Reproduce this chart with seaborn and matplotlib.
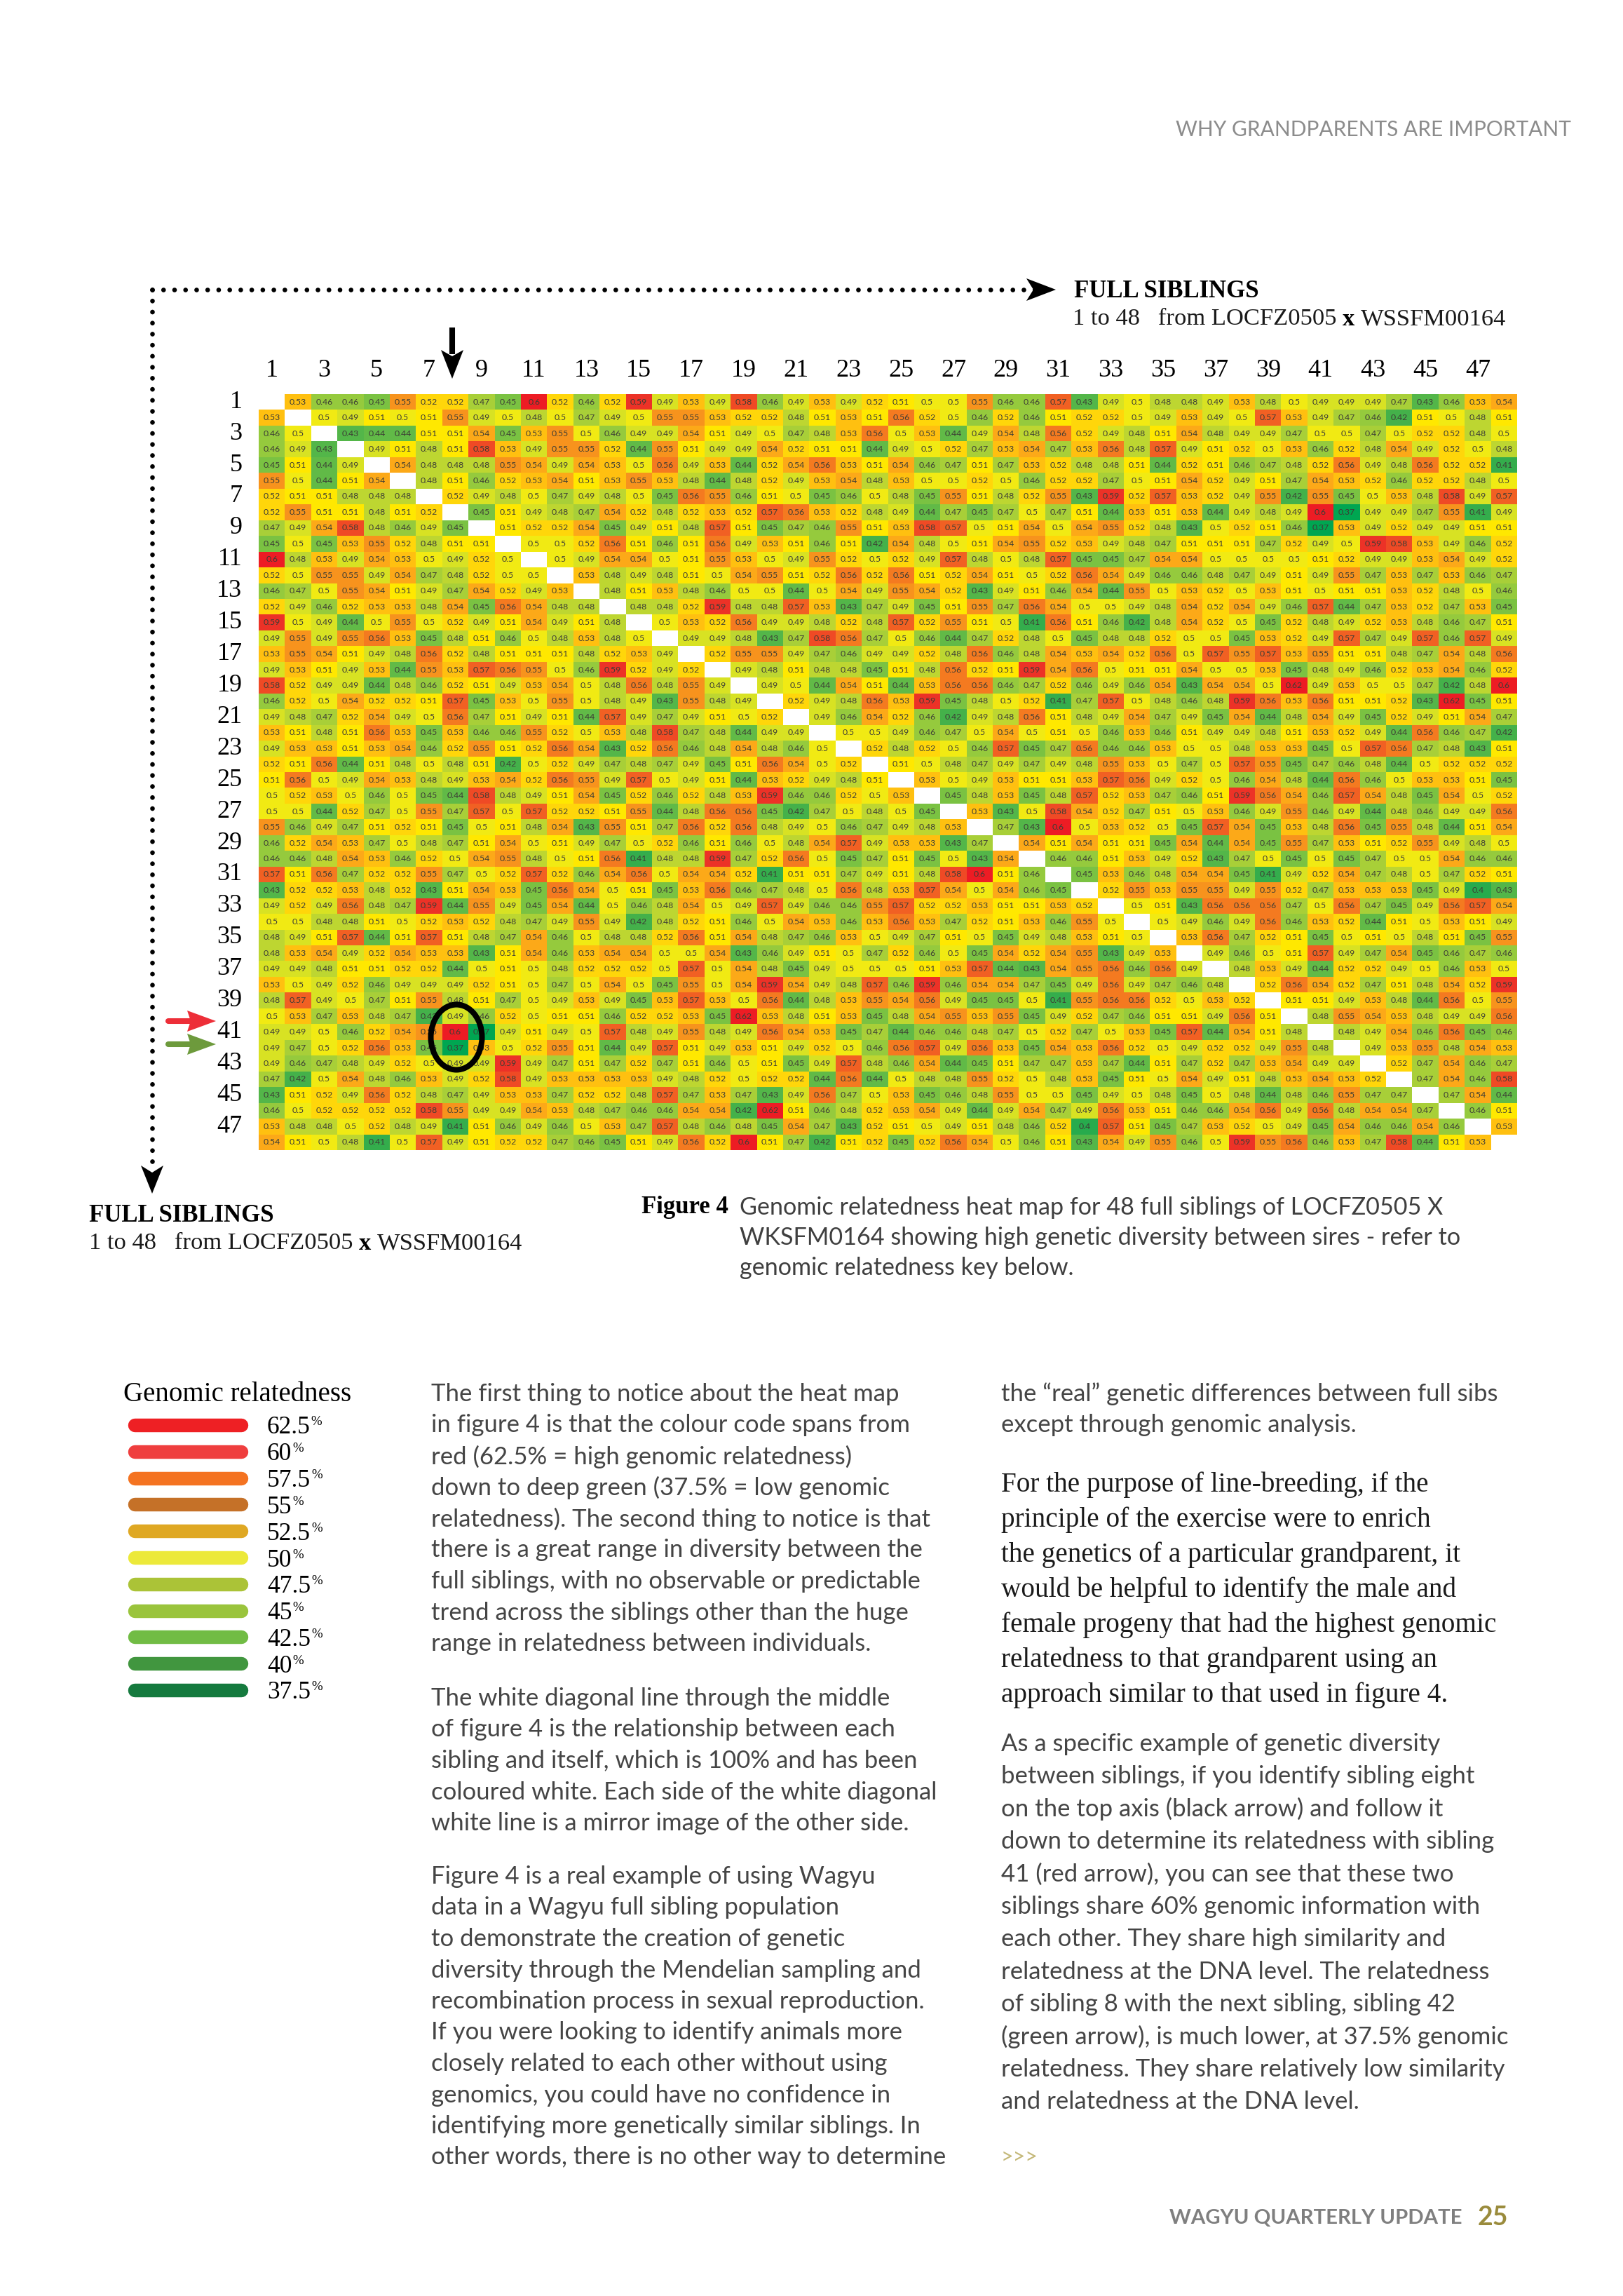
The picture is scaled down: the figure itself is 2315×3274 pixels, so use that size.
import numpy as np
import matplotlib
matplotlib.use("Agg")
import matplotlib.pyplot as plt
import seaborn as sns
from matplotlib.colors import LinearSegmentedColormap
from matplotlib.patches import Ellipse, Polygon

W, H = 2315, 3274

# relatedness x 100, upper triangle only, each row starts right of the diagonal
r01 = [53,46,46,45,55,52,52,47,45,60,52,46,52,59,49,53,49,58,46,49,53,49,52,51,50,50,55,46,46,57,43,49,50,48,48,49,53,48,50,49,49,49,47,43,46,53,54]
r02 = [50,49,51,50,51,55,49,50,48,50,47,49,50,55,55,53,52,52,48,51,53,51,56,52,50,46,52,46,51,52,52,50,49,53,49,50,57,53,49,47,46,42,51,50,48,51]
r03 = [43,44,44,51,51,54,45,53,55,50,46,49,49,54,51,49,50,47,48,53,56,50,53,44,49,54,48,56,52,49,48,51,54,48,49,49,47,50,50,47,50,52,52,48,50]
r04 = [49,51,48,51,58,53,49,55,55,52,44,55,51,49,49,54,52,51,51,44,49,50,52,47,53,54,47,53,56,48,57,49,51,52,50,53,46,52,48,54,49,52,50,48]
r05 = [54,48,48,48,55,54,49,54,53,50,56,49,53,44,52,54,56,53,51,54,46,47,51,47,53,52,48,48,51,44,52,51,46,47,48,52,56,49,48,56,52,52,41]
r06 = [48,51,46,52,53,54,51,53,55,53,48,44,48,52,49,53,54,48,53,50,50,52,50,46,52,52,47,50,51,54,52,49,51,47,54,53,52,46,52,52,48,50]
r07 = [52,49,48,50,47,49,48,50,45,56,55,46,51,50,45,46,50,48,45,55,51,48,52,55,43,59,52,57,53,52,49,55,42,55,45,50,53,48,58,49,57]
r08 = [45,51,49,48,47,54,52,48,52,53,52,57,56,53,52,48,49,44,47,45,47,50,47,51,44,53,51,53,44,49,48,49,60,37,49,49,47,55,41,49]
r09 = [51,52,52,54,45,49,51,48,57,51,45,47,46,55,51,53,58,57,50,51,54,50,54,55,52,48,43,50,52,51,46,37,53,49,52,49,49,51,51]
r10 = [50,50,52,56,51,46,51,56,49,53,51,46,51,42,54,48,50,51,54,55,52,53,49,48,47,51,51,51,47,52,49,50,59,58,53,49,46,52]
r11 = [50,49,54,54,50,51,55,53,50,49,55,52,50,52,49,57,48,50,48,57,45,45,47,54,54,50,50,50,50,51,52,49,49,53,54,49,52]
r12 = [53,48,49,48,51,50,54,55,51,52,56,52,56,51,52,54,51,50,52,56,54,49,46,46,48,47,49,51,49,55,47,53,47,53,46,47]
r13 = [48,51,53,48,46,50,50,44,50,54,49,55,54,52,43,49,51,46,54,44,55,50,53,52,50,53,51,50,51,51,53,52,48,50,46]
r14 = [48,48,52,59,48,48,57,53,43,47,49,45,51,55,47,56,54,50,50,49,48,54,52,54,49,46,57,44,47,53,52,47,53,45]
r15 = [50,53,52,56,49,49,48,52,48,57,52,55,51,50,41,56,51,46,42,48,54,52,50,45,52,48,49,52,53,48,46,47,51]
r16 = [49,49,48,43,47,58,56,47,50,46,44,47,52,48,50,45,48,48,52,50,50,45,53,52,49,57,47,49,57,46,57,49]
r17 = [52,55,55,49,47,46,49,49,52,48,56,46,48,54,53,54,52,56,50,57,55,57,53,55,51,51,48,47,54,48,56]
r18 = [49,48,51,48,48,45,51,48,56,52,51,59,54,56,50,51,51,54,50,50,53,45,48,49,46,52,53,54,46,52]
r19 = [49,50,44,54,51,44,53,56,56,46,47,52,46,49,46,54,43,54,54,50,62,49,53,50,50,47,42,48,60]
r20 = [52,49,48,56,53,59,45,48,50,52,41,47,57,50,48,46,48,59,56,53,56,51,51,52,43,62,45,51]
r21 = [49,46,54,52,46,42,49,48,56,51,48,49,54,47,49,45,54,44,48,54,49,45,52,49,51,54,47]
r22 = [50,50,49,46,47,50,54,50,51,50,46,53,46,51,49,49,48,51,53,52,49,44,56,46,47,42]
r23 = [52,48,52,50,46,57,45,47,56,46,46,53,50,50,48,53,53,45,50,57,56,47,48,43,51]
r24 = [51,50,48,47,49,47,49,48,55,53,50,47,50,57,55,45,47,46,48,44,50,52,52,52]
r25 = [53,50,49,53,51,51,53,57,56,49,52,50,46,54,48,44,56,46,50,53,53,51,45]
r26 = [45,48,53,45,48,57,52,53,47,46,51,59,56,54,46,57,54,48,45,54,50,52]
r27 = [53,43,50,58,54,52,47,51,50,53,46,49,55,46,49,44,48,46,49,49,56]
r28 = [47,43,60,50,53,52,50,45,57,54,45,53,48,56,45,55,48,44,51,54]
r29 = [54,51,54,51,51,45,54,44,54,45,55,47,53,51,52,55,49,48,50]
r30 = [46,46,51,53,49,52,43,47,50,45,50,45,47,50,50,54,46,46]
r31 = [45,53,46,48,54,54,45,41,49,52,54,47,48,50,47,52,51]
r32 = [52,55,53,55,55,49,55,52,47,53,53,53,45,49,40,43]
r33 = [50,51,43,56,56,56,47,50,56,47,45,49,56,57,54]
r34 = [50,49,46,49,56,46,53,52,44,51,50,53,51,49]
r35 = [53,56,47,52,51,45,50,51,50,48,51,45,55]
r36 = [49,46,50,51,57,49,47,54,45,46,47,46]
r37 = [48,53,49,44,52,52,49,50,46,53,50]
r38 = [52,56,54,52,47,51,48,54,52,59]
r39 = [51,51,49,53,48,44,56,50,55]
r40 = [48,55,54,53,48,49,49,56]
r41 = [48,49,54,46,56,45,46]
r42 = [49,53,55,48,54,53]
r43 = [52,47,54,46,47]
r44 = [47,54,46,58]
r45 = [47,54,44]
r46 = [46,51]
r47 = [53]
upper_rows = [r01,r02,r03,r04,r05,r06,r07,r08,r09,r10,r11,r12,r13,r14,r15,r16,
              r17,r18,r19,r20,r21,r22,r23,r24,r25,r26,r27,r28,r29,r30,r31,r32,
              r33,r34,r35,r36,r37,r38,r39,r40,r41,r42,r43,r44,r45,r46,r47]

key_labels = ["62.5", "60", "57.5", "55", "52.5", "50", "47.5", "45", "42.5", "40", "37.5"]
key_colors = ["#ee2024", "#ef3e3e", "#f47321", "#c57128", "#dfa823", "#ece93a",
              "#abc337", "#9ac43c", "#71bc44", "#41963f", "#157a3e"]

left_col = [
    "The first thing to notice about the heat map",
    "in figure 4 is that the colour code spans from",
    "red (62.5% = high genomic relatedness)",
    "down to deep green (37.5% = low genomic",
    "relatedness). The second thing to notice is that",
    "there is a great range in diversity between the",
    "full siblings, with no observable or predictable",
    "trend across the siblings other than the huge",
    "range in relatedness between individuals.",
]
left_col2 = [
    "The white diagonal line through the middle",
    "of figure 4 is the relationship between each",
    "sibling and itself, which is 100% and has been",
    "coloured white. Each side of the white diagonal",
    "white line is a mirror image of the other side.",
]
left_col3 = [
    "Figure 4 is a real example of using Wagyu",
    "data in a Wagyu full sibling population",
    "to demonstrate the creation of genetic",
    "diversity through the Mendelian sampling and",
    "recombination process in sexual reproduction.",
    "If you were looking to identify animals more",
    "closely related to each other without using",
    "genomics, you could have no confidence in",
    "identifying more genetically similar siblings. In",
    "other words, there is no other way to determine",
]
right_col = [
    "the \u201creal\u201d genetic differences between full sibs",
    "except through genomic analysis.",
]
right_serif = [
    "For the purpose of line-breeding, if the",
    "principle of the exercise were to enrich",
    "the genetics of a particular grandparent, it",
    "would be helpful to identify the male and",
    "female progeny that had the highest genomic",
    "relatedness to that grandparent using an",
    "approach similar to that used in figure 4.",
]
right_col2 = [
    "As a specific example of genetic diversity",
    "between siblings, if you identify sibling eight",
    "on the top axis (black arrow) and follow it",
    "down to determine its relatedness with sibling",
    "41 (red arrow), you can see that these two",
    "siblings share 60% genomic information with",
    "each other. They share high similarity and",
    "relatedness at the DNA level. The relatedness",
    "of sibling 8 with the next sibling, sibling 42",
    "(green arrow), is much lower, at 37.5% genomic",
    "relatedness. They share relatively low similarity",
    "and relatedness at the DNA level.",
]
caption = [
    "Genomic relatedness heat map for 48 full siblings of LOCFZ0505 X",
    "WKSFM0164 showing high genetic diversity between sires - refer to",
    "genomic relatedness key below.",
]

sns.set_theme(style="white")
SANS = "Lato"
SERIF = "Liberation Serif"
plt.rcParams["font.family"] = [SANS, "DejaVu Sans"]

n = len(r01) + 1
rel = np.full((n, n), np.nan)
for i, row in enumerate(upper_rows):
    rel[i, i + 1:] = row
    rel[i + 1:, i] = row
labels = np.array([["" if np.isnan(v) else f"{v / 100:g}" for v in line] for line in rel])

heat_cmap = LinearSegmentedColormap.from_list("relatedness", [
    (0.00, "#00a651"), (0.16, "#35ad4c"), (0.28, "#62ba47"), (0.36, "#95ca3d"),
    (0.40, "#a8cf38"), (0.44, "#bdd631"), (0.48, "#d9e222"), (0.52, "#f0ea14"),
    (0.56, "#ffe800"), (0.60, "#ffd60a"), (0.64, "#ffc010"), (0.68, "#fcaa18"),
    (0.72, "#f7941d"), (0.76, "#f47b20"), (0.80, "#f16023"), (0.84, "#ef4c25"),
    (0.88, "#ec3327"), (0.92, "#ed1c24"), (1.00, "#ed1c24")])

fig = plt.figure(figsize=(W / 100, H / 100), dpi=100, facecolor="white")

ax = fig.add_axes([369 / W, 1 - 1640 / H, 1795 / W, 1078 / H])
tick_names = list(range(1, n + 1))
sns.heatmap(rel, ax=ax, cmap=heat_cmap, vmin=37, vmax=62, cbar=False, mask=np.isnan(rel),
            annot=labels, fmt="", annot_kws={"size": 8.8, "color": "#3d3d35"},
            xticklabels=tick_names, yticklabels=tick_names)
ax.set_xticks(np.arange(0, n, 2) + 0.5, tick_names[::2])
ax.set_yticks(np.arange(0, n, 2) + 0.5, tick_names[::2])
ax.xaxis.tick_top()
ax.tick_params(axis="x", length=0, pad=12, labelrotation=0)
ax.tick_params(axis="y", length=0, pad=17, labelrotation=0)
for lab in ax.get_xticklabels() + ax.get_yticklabels():
    lab.set_fontfamily(SERIF)
    lab.set_fontsize(26)
    lab.set_color("black")

# page overlay, one unit is one pixel
page = fig.add_axes([0, 0, 1, 1], zorder=5)
page.set_xlim(0, W)
page.set_ylim(H, 0)
page.axis("off")
page.patch.set_alpha(0)


def write(x, y, s, font=SANS, size=22, color="#3f3f3f", weight="normal", ha="left"):
    return page.text(x, y, s, family=[font, "DejaVu Sans"], fontsize=size, color=color,
                     weight=weight, ha=ha, va="center")


def block(x, y, lines, step, **kw):
    for k, line in enumerate(lines):
        write(x, y + k * step, line, **kw)


def head(tip, direction, length, half, color, notch=0.0):
    d = np.array(direction, float)
    p = np.array([-d[1], d[0]])
    t = np.array(tip, float)
    back = t - d * length
    page.add_patch(Polygon([t, back + p * half, back + d * notch, back - p * half],
                           closed=True, fc=color, ec="none", zorder=6))


# dotted leaders
dots = (0, (0.01, 2.35))
page.plot([217, 1480], [413, 413], color="black", lw=4.8, ls=dots, dash_capstyle="round")
page.plot([217, 217], [413, 1670], color="black", lw=4.8, ls=dots, dash_capstyle="round")
head((1506, 413), (1, 0), 42, 16, "black", notch=10)
head((217, 1702), (0, 1), 40, 16, "black", notch=10)

# sibling pointers
page.plot([645, 645], [467, 505], color="black", lw=5.8, solid_capstyle="butt")
head((645, 540), (0, 1), 41, 16, "black", notch=9)
page.plot([240, 275], [1456, 1456], color="#ed2e38", lw=5.8, solid_capstyle="round")
head((308, 1456), (1, 0), 41, 15, "#ed2e38", notch=5)
page.plot([240, 275], [1489, 1489], color="#6d9a3c", lw=5.8, solid_capstyle="round")
head((308, 1489), (1, 0), 41, 15, "#6d9a3c", notch=5)
page.add_patch(Ellipse((651, 1479), 73, 93, fc="none", ec="black", lw=5.8, zorder=6))

# header and footer
write(2241, 185, "WHY GRANDPARENTS ARE IMPORTANT", size=21.5, color="#8c8c8c", ha="right")
write(2086, 3163, "WAGYU QUARTERLY UPDATE", size=21.2, color="#7f7f7f", weight="bold", ha="right")
write(2108, 3162, "25", size=27, color="#9a8b3c", weight="bold")

# sibling captions
write(1532, 415, "FULL SIBLINGS", font=SERIF, size=25, color="black", weight="bold")
write(127, 1733, "FULL SIBLINGS", font=SERIF, size=25, color="black", weight="bold")
for bx, by in [(1530, 455), (127, 1773)]:
    t = write(bx, by, "1 to 48   from LOCFZ0505 ", font=SERIF, size=24.8, color="#1a1a1a")
    x1 = t.get_window_extent(fig.canvas.get_renderer()).x1
    t = write(x1, by, "x ", font=SERIF, size=24.8, color="black", weight="bold")
    x1 = t.get_window_extent(fig.canvas.get_renderer()).x1
    write(x1, by, "WSSFM00164", font=SERIF, size=24.8, color="#1a1a1a")

# figure caption
write(915, 1722, "Figure 4", font=SERIF, size=25, color="black", weight="bold")
block(1055, 1722, caption, 43, size=24.6, color="#3f3f3f")

# key
write(176, 1988, "Genomic relatedness", font=SERIF, size=28, color="black")
key_y = 2032 + 37.8 * np.arange(len(key_labels))
for y, lab, col in zip(key_y, key_labels, key_colors):
    page.plot([192, 344], [y, y], color=col, lw=14, solid_capstyle="round")
    t = write(381, y + 4, lab, font=SERIF, size=25.5, color="black")
    x1 = t.get_window_extent(fig.canvas.get_renderer()).x1
    write(x1 + 1, y - 4, "%", font=SERIF, size=13.5, color="black")

# body columns
BODY = dict(size=25, color="#454545")
block(615, 1988, left_col, 44.5, **BODY)
block(615, 2422, left_col2, 44.5, **BODY)
block(615, 2676, left_col3, 44.5, **BODY)
block(1428, 1988, right_col, 44.5, **BODY)
block(1428, 2117, right_serif, 50, font=SERIF, size=28.3, color="#1a1a1a")
block(1428, 2487, right_col2, 46.4, **BODY)
write(1428, 3076, ">>>", size=22, color="#c4b878")

fig.savefig("out.png", dpi=100, facecolor="white")
